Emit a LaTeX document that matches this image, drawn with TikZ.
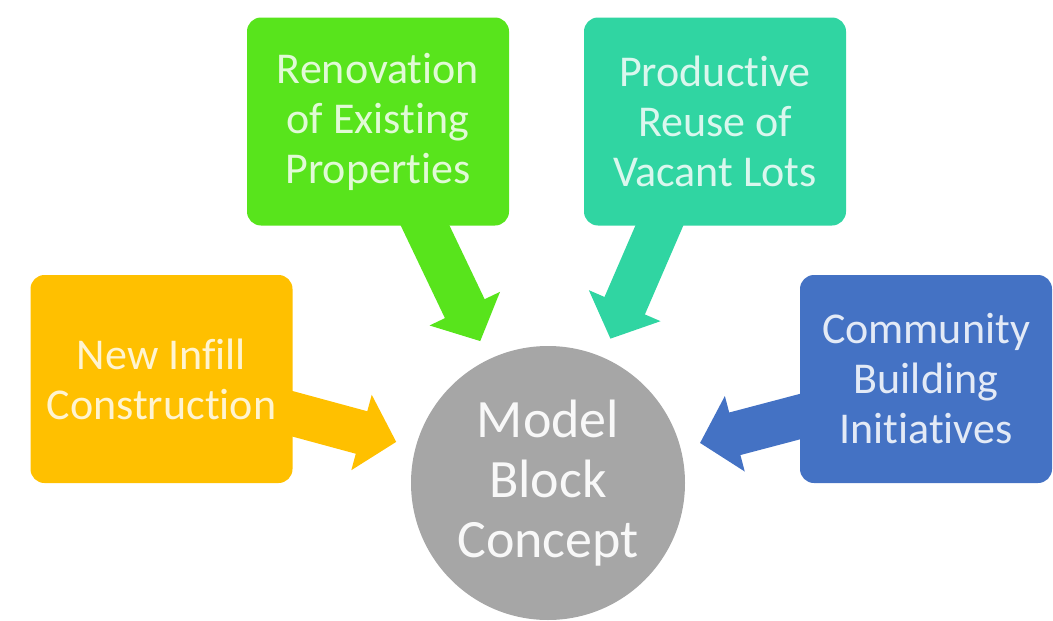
\documentclass[tikz,border=0pt]{standalone}
\usepackage{fontspec}
\setmainfont{Carlito}[Ligatures=NoCommon]
\usetikzlibrary{arrows.meta,backgrounds}
\definecolor{infill}{HTML}{FFC000}
\definecolor{renov}{HTML}{58E41C}
\definecolor{reuse}{HTML}{30D5A2}
\definecolor{commun}{HTML}{4472C4}
\definecolor{hubgray}{HTML}{A6A6A6}
\tikzset{
  box/.style={rectangle, rounded corners=14pt, minimum width=262pt, minimum height=208pt,
    inner sep=0pt, align=center, font=\fontsize{44}{50}\selectfont},
  hub/.style={circle, minimum size=274pt, inner sep=0pt, fill=hubgray,
    text=white!92!hubgray, align=center, font=\fontsize{54}{60}\selectfont},
  flow/.style={line width=44pt, shorten >=20pt, -{Triangle[width=76pt,length=36pt]}},
}

\begin{document}
\begin{tikzpicture}[x=1pt,y=-1pt]
    \useasboundingbox (0,0) rectangle (1053,621);
    % kotak-kotak
    \node[box, fill=infill, text=white!82!infill] (infill) at (161.5,379) {New Infill\\Construction};
    \node[box, fill=renov, text=white!82!renov] (renov) at (378,121.5) {Renovation\\of Existing\\Properties};
    \node[box, fill=reuse, text=white!82!reuse] (reuse) at (715,121.5) {Productive\\Reuse of\\Vacant Lots};
    \node[box, fill=commun, text=white!85!commun, minimum width=252pt] (commun) at (926,379) {Community\\Building\\Initiatives};
    % lingkaran tengah
    \node[hub] (model) at (548,483) {Model\\Block\\Concept};

    % panah-panah
    \begin{scope}[on background layer]
    \draw[flow, infill] ([shift={(-40,24)}]infill.east) -- (model);
    \draw[flow, renov] ([shift={(30,-36)}]renov.south) -- (model);
    \draw[flow, reuse] ([shift={(-41,-34)}]reuse.south) -- (model);
    \draw[flow, commun] ([shift={(48,25)}]commun.west) -- (model);
    \end{scope}
\end{tikzpicture}
\end{document}
